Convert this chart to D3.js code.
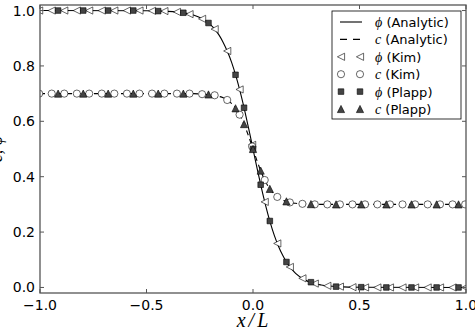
<!DOCTYPE html>
<html>
<head>
<meta charset="utf-8">
<script src="https://cdn.jsdelivr.net/npm/d3@7"></script>
<style>
body { margin: 0; background: #fff; }
svg { display: block; }
.tick-label { font-family: "DejaVu Sans", sans-serif; font-size: 14px; fill: #000; }
.leg-text { font-family: "DejaVu Sans", sans-serif; font-size: 13px; fill: #000; }
.math { font-family: "Liberation Serif", "DejaVu Serif", serif; font-style: italic; }
</style>
</head>
<body>
<svg id="chart" width="475" height="331"></svg>
<script>
// analytic profiles
var lineX = [-1, -0.5, -0.4, -0.32, -0.28, -0.24, -0.2, -0.18, -0.16, -0.14, -0.12, -0.1, -0.08, -0.06, -0.04, -0.02,
	0, 0.02, 0.04, 0.06, 0.08, 0.1, 0.12, 0.14, 0.16, 0.18, 0.2, 0.24, 0.28, 0.32, 0.4, 0.5, 1];
var phiAnalytic = [1, 0.999, 0.997, 0.991, 0.984, 0.971, 0.949, 0.933, 0.912, 0.885, 0.852, 0.812, 0.763, 0.706, 0.642, 0.573,
	0.5, 0.427, 0.358, 0.294, 0.237, 0.188, 0.148, 0.115, 0.088, 0.068, 0.051, 0.029, 0.016, 0.009, 0.003, 0.001, 0];
var cAnalytic = [0.7, 0.7, 0.7, 0.7, 0.7, 0.698, 0.696, 0.694, 0.69, 0.685, 0.676, 0.664, 0.645, 0.62, 0.586, 0.545,
	0.5, 0.455, 0.414, 0.38, 0.355, 0.337, 0.324, 0.315, 0.31, 0.306, 0.304, 0.302, 0.301, 0.3, 0.3, 0.3, 0.3];

// Kim et al. points
var kimX = [-1.004, -0.945, -0.886, -0.827, -0.769, -0.71, -0.651, -0.592, -0.533, -0.474, -0.416, -0.357, -0.298,
	-0.239, -0.18, -0.121, -0.063, -0.004, 0.055, 0.114, 0.173, 0.232, 0.29, 0.349, 0.408, 0.467, 0.526, 0.584,
	0.643, 0.702, 0.761, 0.82, 0.878, 0.937, 0.996];
var kimPhi = [1, 1, 1, 1, 1, 1, 1, 1, 1, 0.999, 0.998, 0.995, 0.987,
	0.97, 0.933, 0.854, 0.715, 0.515, 0.309, 0.159, 0.074, 0.033, 0.014, 0.006, 0.003, 0.001, 0, 0,
	0, 0, 0, 0, 0, 0, 0];
var kimC = [0.7, 0.7, 0.7, 0.7, 0.7, 0.7, 0.7, 0.7, 0.7, 0.7, 0.7, 0.7, 0.7,
	0.698, 0.694, 0.677, 0.624, 0.509, 0.388, 0.327, 0.307, 0.302, 0.3, 0.3, 0.3, 0.3, 0.3, 0.3,
	0.3, 0.3, 0.3, 0.3, 0.3, 0.3, 0.3];

// Plapp points
var plappX = [-0.915, -0.797, -0.68, -0.562, -0.445, -0.327, -0.209, -0.082, -0.042, 0, 0.036, 0.079, 0.157,
	0.272, 0.39, 0.508, 0.626, 0.744, 0.862, 0.965];
var plappPhi = [1, 1, 1, 1, 0.998, 0.992, 0.955, 0.768, 0.649, 0.5, 0.371, 0.24, 0.092,
	0.019, 0.003, 0.001, 0, 0, 0, 0];
var plappC = [0.7, 0.7, 0.7, 0.7, 0.7, 0.7, 0.697, 0.647, 0.59, 0.5, 0.422, 0.356, 0.311,
	0.301, 0.3, 0.3, 0.3, 0.3, 0.3, 0.3];

var xTicks = [-1, -0.5, 0, 0.5, 1];
var yTicks = [0, 0.2, 0.4, 0.6, 0.8, 1];
var legendLabels = [["\u03d5", " (Analytic)"], ["c", " (Analytic)"], ["\u03d5", " (Kim)"],
	["c", " (Kim)"], ["\u03d5", " (Plapp)"], ["c", " (Plapp)"]];

var plot = {
	left: 40, right: 466, top: 5, bottom: 293,

	marker: function (kind)
	{
		var r = 3.6;
		if (kind == "left") return "M" + (-r) + ",0L" + r + "," + (-r) + "L" + r + "," + r + "Z";
		if (kind == "up") return "M0," + (-r) + "L" + (-r) + "," + r + "L" + r + "," + r + "Z";
		if (kind == "square") return "M-2.8,-2.8H2.8V2.8H-2.8Z";
		return "M" + r + ",0A" + r + "," + r + " 0 1,1 " + (-r) + ",0A" + r + "," + r + " 0 1,1 " + r + ",0Z";
	},

	styles: [
		{kind: "left", fill: "#fff"},
		{kind: "circle", fill: "#fff"},
		{kind: "square", fill: "#444"},
		{kind: "up", fill: "#444"}
	],

	init: function ()
	{
		var svg = d3.select("svg#chart");
		var x = d3.scaleLinear().domain([-1, 1]).range([this.left, this.right]);
		var y = d3.scaleLinear().domain([-0.02, 1.02]).range([this.bottom, this.top]);
		var self = this;

		svg.append("clipPath").attr("id", "clip")
		.append("rect")
		.attr("x", this.left).attr("y", this.top)
		.attr("width", this.right - this.left).attr("height", this.bottom - this.top);

		var g = svg.append("g").attr("clip-path", "url(#clip)");

		var line = d3.line()
		.x(function (d) { return x(d[0]); })
		.y(function (d) { return y(d[1]); })
		.curve(d3.curveMonotoneX);

		g.append("path")
		.datum(d3.zip(lineX, phiAnalytic))
		.attr("d", line)
		.attr("fill", "none").attr("stroke", "#000").attr("stroke-width", 1.1);

		g.append("path")
		.datum(d3.zip(lineX, cAnalytic))
		.attr("d", line)
		.attr("fill", "none").attr("stroke", "#000").attr("stroke-width", 1.1)
		.attr("stroke-dasharray", "5,4");

		var sets = [
			d3.zip(kimX, kimPhi),
			d3.zip(kimX, kimC),
			d3.zip(plappX, plappPhi),
			d3.zip(plappX, plappC)
		];

		sets.forEach(function (data, i) {
			var st = self.styles[i];
			g.append("g").selectAll("path")
			.data(data)
			.enter().append("path")
			.attr("d", self.marker(st.kind))
			.attr("transform", function (d) { return "translate(" + x(d[0]) + "," + y(d[1]) + ")"; })
			.attr("fill", st.fill)
			.attr("stroke", "#000")
			.attr("stroke-width", 0.6);
		});

		// frame
		svg.append("rect")
		.attr("x", this.left).attr("y", this.top)
		.attr("width", this.right - this.left).attr("height", this.bottom - this.top)
		.attr("fill", "none").attr("stroke", "#555").attr("stroke-width", 1.3);

		// inward ticks on all four sides
		var ticks = svg.append("g").attr("stroke", "#555").attr("stroke-width", 1);
		xTicks.forEach(function (t) {
			ticks.append("line").attr("x1", x(t)).attr("x2", x(t)).attr("y1", self.bottom).attr("y2", self.bottom - 4);
			ticks.append("line").attr("x1", x(t)).attr("x2", x(t)).attr("y1", self.top).attr("y2", self.top + 4);
		});
		yTicks.forEach(function (t) {
			ticks.append("line").attr("x1", self.left).attr("x2", self.left + 4).attr("y1", y(t)).attr("y2", y(t));
			ticks.append("line").attr("x1", self.right).attr("x2", self.right - 4).attr("y1", y(t)).attr("y2", y(t));
		});

		svg.append("g").selectAll("text")
		.data(xTicks)
		.enter().append("text")
		.classed("tick-label", true)
		.attr("x", function (d) { return x(d); })
		.attr("y", 310)
		.attr("text-anchor", "middle")
		.text(function (d) { return d3.format(".1f")(d).replace("-", "\u2212"); });

		svg.append("g").selectAll("text")
		.data(yTicks)
		.enter().append("text")
		.classed("tick-label", true)
		.attr("x", 35)
		.attr("y", function (d) { return y(d) + 5; })
		.attr("text-anchor", "end")
		.text(function (d) { return d3.format(".1f")(d); });

		// axis titles
		svg.append("text")
		.classed("math", true)
		.attr("x", 254).attr("y", 327)
		.attr("text-anchor", "middle")
		.attr("font-size", 20)
		.attr("letter-spacing", 3)
		.text("x/L");

		svg.append("text")
		.classed("math", true)
		.attr("transform", "translate(2,149) rotate(-90)")
		.attr("text-anchor", "middle")
		.attr("font-size", 18)
		.text("c, \u03d5");

		this.renderLegend(svg);
	},

	renderLegend: function (svg)
	{
		var self = this;
		var lg = svg.append("g");
		lg.append("rect")
		.attr("x", 332).attr("y", 11).attr("width", 129).attr("height", 108)
		.attr("fill", "#fff").attr("stroke", "#000").attr("stroke-width", 0.8);

		var rowY = function (i) { return 22 + i * 17.4; };

		lg.append("line")
		.attr("x1", 340).attr("x2", 362).attr("y1", rowY(0)).attr("y2", rowY(0))
		.attr("stroke", "#000").attr("stroke-width", 1.1);
		lg.append("line")
		.attr("x1", 340).attr("x2", 362).attr("y1", rowY(1)).attr("y2", rowY(1))
		.attr("stroke", "#000").attr("stroke-width", 1.1).attr("stroke-dasharray", "7,6");

		this.styles.forEach(function (st, i) {
			[341, 360].forEach(function (mx) {
				lg.append("path")
				.attr("d", self.marker(st.kind))
				.attr("transform", "translate(" + mx + "," + rowY(i + 2) + ")")
				.attr("fill", st.fill)
				.attr("stroke", "#000")
				.attr("stroke-width", 0.6);
			});
		});

		legendLabels.forEach(function (lab, i) {
			var t = lg.append("text")
			.classed("leg-text", true)
			.attr("x", 375).attr("y", rowY(i) + 5);
			t.append("tspan").classed("math", true).attr("font-size", 14).text(lab[0]);
			t.append("tspan").text(lab[1]);
		});
	}
};

plot.init();
</script>
</body>
</html>
